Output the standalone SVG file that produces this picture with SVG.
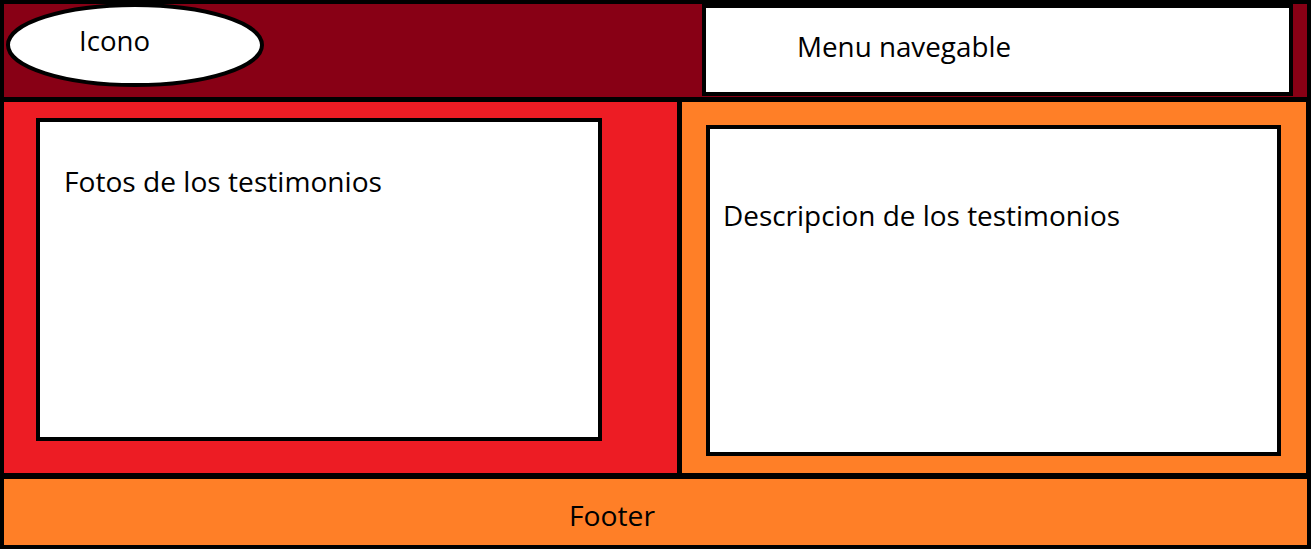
<svg xmlns="http://www.w3.org/2000/svg" width="1311" height="552" viewBox="0 0 1311 552">
<style>
.w{fill:#fff;stroke:#000;stroke-width:4}
text{font-family:"Open Sans","Noto Sans",sans-serif;font-size:27px;fill:#000}
</style>
<rect x="0" y="0" width="1311" height="552" fill="#fff"/>
<rect x="0" y="0" width="1311" height="549" fill="#000"/>
<g id="header">
<rect x="4" y="4" width="1303" height="93" fill="#880015"/>
</g>
<g id="icono">
<ellipse cx="135" cy="45" rx="127" ry="40" class="w" stroke-width="5"/>
<text x="79" y="51" textLength="71" lengthAdjust="spacingAndGlyphs">Icono</text>
</g>
<g id="menu">
<rect x="704" y="6" width="587" height="88" class="w"/>
<text x="797" y="57" textLength="214" lengthAdjust="spacingAndGlyphs">Menu navegable</text>
</g>
<g id="fotos-panel">
<rect x="4" y="102" width="673" height="371" fill="#ED1C24"/>
<rect x="38" y="120" width="562" height="319" class="w"/>
<text x="64" y="192" textLength="318" lengthAdjust="spacingAndGlyphs">Fotos de los testimonios</text>
</g>
<g id="descripcion-panel">
<rect x="682" y="102" width="624" height="371" fill="#FF7F27"/>
<rect x="708" y="127" width="571" height="327" class="w"/>
<text x="723" y="226" textLength="397" lengthAdjust="spacingAndGlyphs">Descripcion de los testimonios</text>
</g>
<g id="footer">
<rect x="4" y="479" width="1303" height="66" fill="#FF7F27"/>
<text x="569" y="526" textLength="86" lengthAdjust="spacingAndGlyphs">Footer</text>
</g>
<g id="connectors"></g>
</svg>
